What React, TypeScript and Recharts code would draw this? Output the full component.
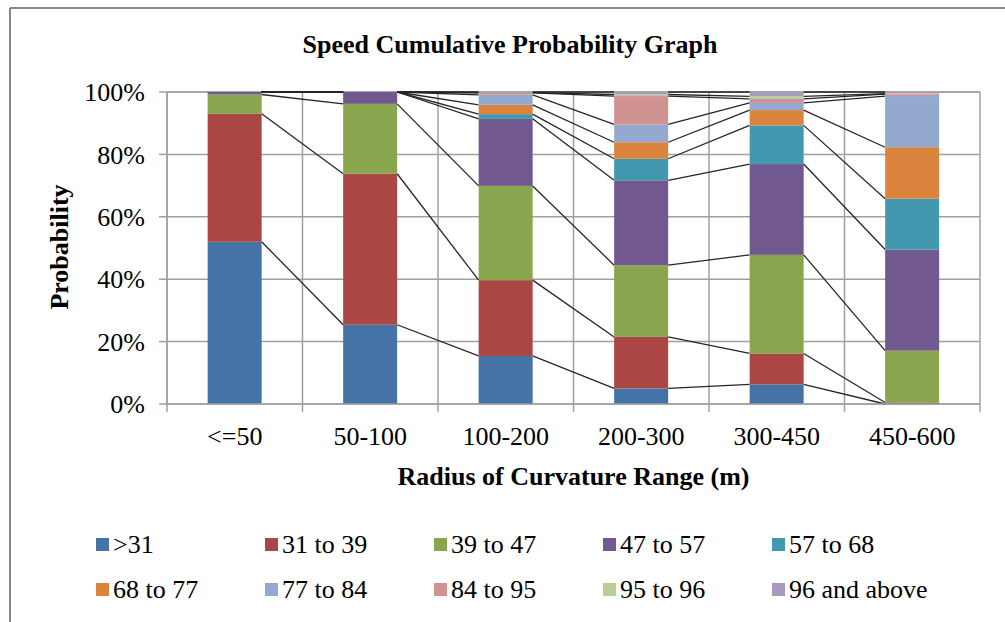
import React from "react";
import { BarChart, Bar, XAxis, YAxis, CartesianGrid, Legend } from "recharts";

const categories = ["<=50", "50-100", "100-200", "200-300", "300-450", "450-600"];

const seriesNames = [
  ">31",
  "31 to 39",
  "39 to 47",
  "47 to 57",
  "57 to 68",
  "68 to 77",
  "77 to 84",
  "84 to 95",
  "95 to 96",
  "96 and above",
];

const seriesColors = [
  "#4572A7",
  "#AA4643",
  "#89A54E",
  "#71588F",
  "#4198AF",
  "#DB843D",
  "#93A9CF",
  "#D19392",
  "#B9CD96",
  "#A99BBD",
];

// share of each speed band in every radius range (%)
const over31 = [52, 25.4, 15.4, 5.0, 6.3, 0];
const s31to39 = [41, 48.4, 24.3, 16.5, 9.9, 0.5];
const s39to47 = [6.2, 22.4, 30.2, 23, 31.6, 16.6];
const s47to57 = [0.8, 3.8, 21.5, 27.2, 29.1, 32.4];
const s57to68 = [0, 0, 1.5, 6.9, 12.4, 16.3];
const s68to77 = [0, 0, 3.0, 5.3, 4.9, 16.5];
const s77to84 = [0, 0, 3.2, 5.7, 2.3, 16.4];
const s84to95 = [0, 0, 0.6, 9.1, 1.3, 0.6];
const s95to96 = [0, 0, 0.1, 0.5, 0.8, 0.2];
const s96up = [0, 0, 0.2, 0.8, 1.4, 0.5];

const seriesValues = [over31, s31to39, s39to47, s47to57, s57to68, s68to77, s77to84, s84to95, s95to96, s96up];

const yTicks = [0, 20, 40, 60, 80, 100];

const CHART_W = 1005;
const CHART_H = 622;
const MARGIN = { top: 92, right: 25, bottom: 128, left: 20 };
const Y_AXIS_W = 147;
const X_AXIS_H = 90;
const PLOT_W = CHART_W - MARGIN.left - Y_AXIS_W - MARGIN.right;
const PLOT_H = CHART_H - MARGIN.top - MARGIN.bottom - X_AXIS_H;
const BAND = PLOT_W / categories.length;

const FONT = "'Liberation Serif', 'Times New Roman', serif";
const GRID = "#a0a0a0";

const data = categories.map((name, i) => {
  const row: Record<string, string | number> = { name };
  seriesValues.forEach((vals, s) => {
    row["s" + s] = vals[i];
  });
  return row;
});

// cumulative top of each series per category, for the series lines
const cumTop = seriesValues.map((_, s) =>
  categories.map((_, i) => seriesValues.slice(0, s + 1).reduce((acc, v) => acc + v[i], 0))
);

function Segment(props: any) {
  const { x, y, width, height, index, fill, background, seriesIndex } = props;
  const top = background && background.height ? background.y : MARGIN.top;
  const h = background && background.height ? background.height : PLOT_H;
  const toY = (v: number) => top + h * (1 - Math.min(v, 100) / 100);
  const hasNext = index < categories.length - 1;
  return (
    <g>
      {height > 0 && <rect x={x} y={y} width={width} height={height} fill={fill} />}
      {hasNext && (
        <line
          x1={x + width}
          y1={toY(cumTop[seriesIndex][index])}
          x2={x + BAND}
          y2={toY(cumTop[seriesIndex][index + 1])}
          stroke="#262626"
          strokeWidth={1.3}
        />
      )}
    </g>
  );
}

function XTick(props: any) {
  const { x, y, payload, index } = props;
  const half = payload && payload.offset ? payload.offset : BAND / 2;
  const last = index === categories.length - 1;
  return (
    <g>
      <line x1={x - half} y1={y} x2={x - half} y2={y + 8} stroke={GRID} strokeWidth={1.5} />
      {last && <line x1={x + half} y1={y} x2={x + half} y2={y + 8} stroke={GRID} strokeWidth={1.5} />}
      <text x={x} y={y + 41} textAnchor="middle" fontSize={26} fontFamily={FONT} fill="#000">
        {payload.value}
      </text>
    </g>
  );
}

const renderLegend = () => (
  <div style={{ position: "relative", width: CHART_W, height: 80, fontFamily: FONT, fontSize: 26, color: "#000" }}>
    {seriesNames.map((n, i) => {
      const col = i % 5;
      const row = Math.floor(i / 5);
      return (
        <div
          key={n}
          style={{
            position: "absolute",
            left: 96 + col * 169,
            top: row * 45,
            height: 34,
            lineHeight: "34px",
            whiteSpace: "nowrap",
          }}
        >
          <span
            style={{
              position: "absolute",
              left: 0,
              top: 10,
              width: 13,
              height: 13,
              background: seriesColors[i],
            }}
          />
          <span style={{ marginLeft: 17 }}>{n}</span>
        </div>
      );
    })}
  </div>
);

export default function App() {
  return (
    <div style={{ position: "absolute", left: 0, top: 0, width: CHART_W, height: CHART_H, fontFamily: FONT, background: "#fff" }}>
      <BarChart width={CHART_W} height={CHART_H} data={data} margin={MARGIN} barCategoryGap="30%">
        <CartesianGrid
          stroke={GRID}
          strokeWidth={1.5}
          verticalCoordinatesGenerator={({ offset }: any) =>
            categories.map((_, i) => offset.left + (i * offset.width) / categories.length).concat(offset.left + offset.width)
          }
        />
        <XAxis
          dataKey="name"
          height={X_AXIS_H}
          tickSize={0}
          tickMargin={0}
          tickLine={false}
          axisLine={{ stroke: GRID, strokeWidth: 1.5 }}
          tick={<XTick />}
          interval={0}
          label={(p: any) => (
            <text
              x={p.viewBox.x + p.viewBox.width / 2}
              y={p.viewBox.y + 81}
              textAnchor="middle"
              fontSize={26}
              fontWeight="bold"
              fontFamily={FONT}
              fill="#000"
            >
              Radius of Curvature Range (m)
            </text>
          )}
        />
        <YAxis
          width={Y_AXIS_W}
          domain={[0, 100]}
          ticks={yTicks}
          tickFormatter={(v: number) => v + "%"}
          tickSize={8}
          tickMargin={14}
          tickLine={{ stroke: GRID, strokeWidth: 1.5 }}
          axisLine={{ stroke: GRID, strokeWidth: 1.5 }}
          tick={{ fontSize: 26, fontFamily: FONT, fill: "#000" }}
          label={(p: any) => {
            const cx = p.viewBox.x + 48;
            const cy = p.viewBox.y + p.viewBox.height / 2 - 1;
            return (
              <text
                x={cx}
                y={cy}
                transform={`rotate(-90, ${cx}, ${cy})`}
                textAnchor="middle"
                fontSize={26}
                fontWeight="bold"
                fontFamily={FONT}
                fill="#000"
              >
                Probability
              </text>
            );
          }}
        />
        <Legend
          layout="horizontal"
          verticalAlign="middle"
          align="center"
          content={renderLegend}
          wrapperStyle={{ left: 0, top: 528, width: CHART_W, height: 80 }}
        />
        {seriesNames.map((n, s) => (
          <Bar
            key={n}
            dataKey={"s" + s}
            name={n}
            stackId="speed"
            fill={seriesColors[s]}
            isAnimationActive={false}
            shape={(p: any) => <Segment {...p} seriesIndex={s} />}
          />
        ))}
      </BarChart>
      <svg
        width={CHART_W}
        height={CHART_H}
        style={{ position: "absolute", left: 0, top: 0, pointerEvents: "none" }}
      >
        <line x1={10} y1={8} x2={CHART_W} y2={8} stroke="#888" strokeWidth={2} />
        <line x1={10} y1={8} x2={10} y2={CHART_H} stroke="#888" strokeWidth={2} />
        <text x={510} y={53} textAnchor="middle" fontSize={26} fontWeight="bold" fontFamily={FONT} fill="#000">
          Speed Cumulative Probability Graph
        </text>
      </svg>
    </div>
  );
}
